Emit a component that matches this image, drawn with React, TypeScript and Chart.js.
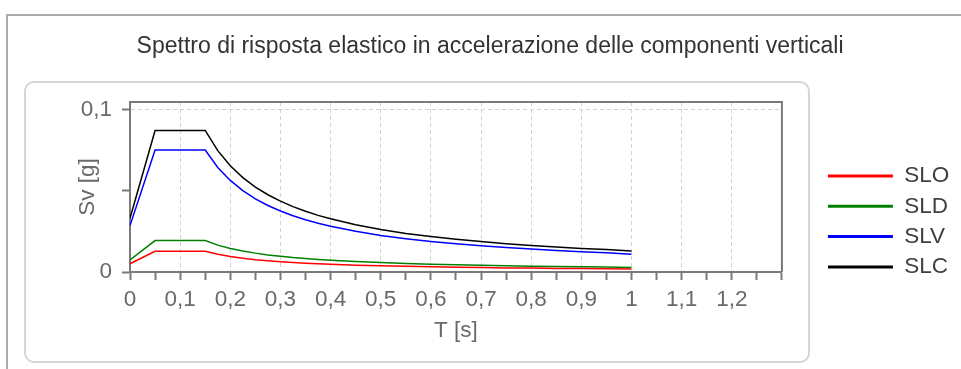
import React, { useEffect, useRef } from "react";
import { Chart, registerables } from "chart.js";

Chart.register(...registerables);

// Period T [s]
const periods = [0, 0.05, 0.15, 0.175, 0.2, 0.225, 0.25, 0.275, 0.3, 0.325, 0.35, 0.375, 0.4, 0.45, 0.5, 0.55, 0.6, 0.65, 0.7, 0.75, 0.8, 0.85, 0.9, 0.95, 1.0];
// Sv [g] per limit state
const sloValues = [0.0051, 0.0127, 0.0127, 0.0109, 0.0095, 0.0085, 0.0076, 0.0069, 0.0063, 0.0058, 0.0054, 0.0051, 0.0048, 0.0042, 0.0038, 0.0035, 0.0032, 0.0029, 0.0027, 0.0025, 0.0024, 0.0022, 0.0021, 0.002, 0.0019];
const sldValues = [0.0074, 0.0193, 0.0193, 0.0165, 0.0145, 0.0129, 0.0116, 0.0105, 0.0097, 0.0089, 0.0083, 0.0077, 0.0072, 0.0064, 0.0058, 0.0053, 0.0048, 0.0045, 0.0041, 0.0039, 0.0036, 0.0034, 0.0032, 0.003, 0.0028];
const slvValues = [0.0285, 0.075, 0.075, 0.0643, 0.0563, 0.05, 0.045, 0.0409, 0.0375, 0.0346, 0.0321, 0.03, 0.0281, 0.025, 0.0225, 0.0205, 0.0188, 0.0173, 0.0161, 0.015, 0.0141, 0.0132, 0.0125, 0.0118, 0.0109];
const slcValues = [0.033, 0.087, 0.087, 0.0746, 0.0653, 0.058, 0.0522, 0.0475, 0.0436, 0.0402, 0.0373, 0.0348, 0.0327, 0.029, 0.0261, 0.0237, 0.0218, 0.0201, 0.0187, 0.0174, 0.0163, 0.0154, 0.0145, 0.0138, 0.0129];

const seriesNames = ["SLO", "SLD", "SLV", "SLC"];
const seriesColors = ["#ff0000", "#008000", "#0000ff", "#000000"];
const seriesValues = [sloValues, sldValues, slvValues, slcValues];

const titleText = "Spettro di risposta elastico in accelerazione delle componenti verticali";
const xTitle = "T [s]";
const yTitle = "Sv [g]";

const FONT = "'Liberation Sans', Arial, sans-serif";
const CANVAS_LEFT = 21;
const CANVAS_W = 961 - CANVAS_LEFT;
const CANVAS_H = 369;
const FS = 22.5;

function fmt(v: number): string {
  const k = Math.round(v * 20);
  if (Math.abs(v - k / 20) > 1e-6) return "";
  if (k % 2 !== 0) return "";
  return String(k / 20).replace(".", ",");
}

const framePlugin = {
  id: "frame",
  afterDatasetsDraw(chart: any) {
    const { ctx, chartArea } = chart;
    ctx.save();
    ctx.strokeStyle = "#7a7a7a";
    ctx.lineWidth = 2;
    ctx.beginPath();
    ctx.moveTo(chartArea.left, chartArea.top);
    ctx.lineTo(chartArea.right, chartArea.top);
    ctx.lineTo(chartArea.right, chartArea.bottom);
    ctx.stroke();
    ctx.restore();
  },
};

export default function App() {
  const ref = useRef<HTMLCanvasElement>(null);

  useEffect(() => {
    if (!ref.current) return;
    const datasets = seriesNames.map((name, s) => ({
      label: name,
      data: periods.map((t, i) => ({ x: t, y: seriesValues[s][i] })),
      borderColor: seriesColors[s],
      backgroundColor: seriesColors[s],
      borderWidth: 1.5,
      pointRadius: 0,
      fill: false,
      tension: 0,
    }));

    const chart = new Chart(ref.current, {
      type: "line",
      data: { datasets },
      plugins: [framePlugin],
      options: {
        animation: false,
        responsive: false,
        devicePixelRatio: 1,
        layout: { padding: { left: 0, right: 1.8, top: 0, bottom: 0 } },
        font: { family: FONT },
        plugins: {
          title: {
            display: true,
            text: titleText,
            color: "#333333",
            font: { family: FONT, size: 23, weight: "normal" },
            padding: { top: 33.2, bottom: 41.2 },
          },
          legend: {
            display: true,
            position: "right",
            align: "center",
            fullSize: true,
            title: { display: true, text: "", font: { size: 10 }, padding: { top: 61.9, bottom: 0 } },
            labels: {
              boxWidth: 65,
              boxHeight: 3,
              padding: 7.8,
              color: "#404040",
              font: { family: FONT, size: FS },
              generateLabels: (c: any) =>
                Chart.defaults.plugins.legend.labels
                  .generateLabels(c)
                  .map((l: any) => ({ ...l, fillStyle: l.strokeStyle, lineWidth: 0 })),
            },
          },
          tooltip: { enabled: false },
        },
        scales: {
          x: {
            type: "linear",
            position: "bottom",
            min: 0,
            max: 1.3,
            ticks: {
              stepSize: 0.05,
              autoSkip: false,
              maxRotation: 0,
              padding: 6.5,
              color: "#6a6a6a",
              font: { family: FONT, size: FS },
              callback: (v: any) => {
                const s = fmt(Number(v));
                return Number(v) > 1.25 ? "" : s;
              },
            },
            grid: {
              color: (ctx: any) => {
                const v = ctx.tick ? ctx.tick.value : 0;
                const k = Math.round(v * 10);
                return v > 0.01 && v < 1.29 && Math.abs(v - k / 10) < 1e-6 ? "#d2d2d2" : "rgba(0,0,0,0)";
              },
              lineWidth: 1,
              tickColor: "#7a7a7a",
              tickWidth: 2,
              tickLength: 8,
              drawTicks: true,
            },
            border: { display: true, color: "#7a7a7a", width: 2, dash: [4, 3] },
            title: {
              display: true,
              text: xTitle,
              color: "#6a6a6a",
              font: { family: FONT, size: FS },
              padding: { top: 0, bottom: 24.5 },
            },
            afterFit: (scale: any) => {
              scale.height = 97;
            },
          },
          y: {
            type: "linear",
            position: "left",
            min: 0,
            max: 0.1045,
            bounds: "data",
            ticks: {
              stepSize: 0.05,
              includeBounds: false,
              padding: 10,
              color: "#6a6a6a",
              font: { family: FONT, size: FS },
              callback: (v: any) => fmt(Number(v)),
            },
            grid: {
              color: (ctx: any) => {
                const v = ctx.tick ? ctx.tick.value : 0;
                return Math.abs(v - 0.1) < 1e-6 ? "#d2d2d2" : "rgba(0,0,0,0)";
              },
              lineWidth: 1,
              tickColor: (ctx: any) => {
                const v = ctx.tick ? ctx.tick.value : 0;
                const k = Math.round(v * 20);
                return Math.abs(v - k / 20) < 1e-6 ? "#7a7a7a" : "rgba(0,0,0,0)";
              },
              tickWidth: 2,
              tickLength: 8,
            },
            border: { display: true, color: "#7a7a7a", width: 2, dash: [4, 3] },
            title: {
              display: true,
              text: yTitle,
              color: "#6a6a6a",
              font: { family: FONT, size: FS },
              padding: { top: 53.5, bottom: 0 },
            },
            afterFit: (scale: any) => {
              scale.width = 130 - CANVAS_LEFT;
            },
          },
          spacer: {
            type: "linear",
            position: "right",
            display: true,
            ticks: { display: false },
            grid: { display: false, drawTicks: false, drawOnChartArea: false },
            border: { display: false },
            afterFit: (scale: any) => {
              scale.width = 38.2;
            },
          },
        },
      } as any,
    });
    return () => chart.destroy();
  }, []);

  return (
    <div style={{ position: "fixed", left: 0, top: 0, width: 961, height: 369, overflow: "hidden", background: "#ffffff" }}>
      <div
        style={{
          position: "absolute",
          left: 6,
          top: 14,
          width: 1000,
          height: 400,
          borderTop: "2px solid #ababab",
          borderLeft: "2px solid #ababab",
        }}
      />
      <div
        style={{
          position: "absolute",
          left: 24,
          top: 81,
          width: 786,
          height: 282,
          boxSizing: "border-box",
          border: "2px solid #d6d6d6",
          borderRadius: 10,
        }}
      />
      <canvas
        ref={ref}
        width={CANVAS_W}
        height={CANVAS_H}
        style={{ position: "absolute", left: CANVAS_LEFT, top: 0, width: CANVAS_W, height: CANVAS_H }}
      />
    </div>
  );
}
